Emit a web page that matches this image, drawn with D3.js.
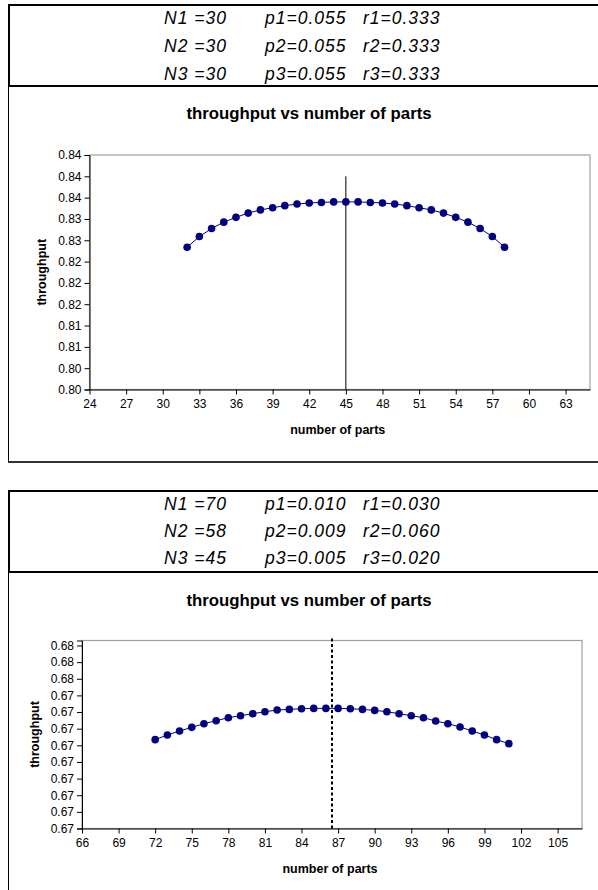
<!DOCTYPE html>
<html lang="en">
<head>
    <meta charset="UTF-8">
    <title>throughput vs number of parts</title>
    <script src="https://d3js.org/d3.v7.min.js"></script>
    <style>
        body { margin: 0; background: #fff; font-family: "Liberation Sans", Arial, sans-serif; }
        svg { display: block; }
        .hdr { font-style: italic; font-size: 17.5px; letter-spacing: 1px; }
        .title { font-weight: bold; font-size: 16.8px; }
        .axis-title { font-weight: bold; font-size: 12.5px; }
    </style>
</head>
<body>
<div id="chart"></div>
<script>
    // ---- data: case 1 ----
    const paramsN1 = ["N1 =30", "N2 =30", "N3 =30"];
    const paramsP1 = ["p1=0.055", "p2=0.055", "p3=0.055"];
    const paramsR1 = ["r1=0.333", "r2=0.333", "r3=0.333"];
    const parts1 = [32, 33, 34, 35, 36, 37, 38, 39, 40, 41, 42, 43, 44, 45, 46, 47, 48, 49, 50, 51, 52, 53, 54, 55, 56, 57, 58];
    const throughput1 = [0.8267, 0.8287, 0.8302, 0.8314, 0.8323, 0.8331, 0.8337, 0.8341, 0.8345, 0.8348, 0.8350, 0.8351, 0.8352,
        0.8352, 0.8352, 0.8351, 0.8350, 0.8348, 0.8345, 0.8341, 0.8337, 0.8331, 0.8323, 0.8314, 0.8302, 0.8287, 0.8267];
    const xDomain1 = [24, 65];
    const xTicks1 = [24, 27, 30, 33, 36, 39, 42, 45, 48, 51, 54, 57, 60, 63];
    const yDomain1 = [0.800, 0.844];
    const yTicks1 = [0.800, 0.804, 0.808, 0.812, 0.816, 0.820, 0.824, 0.828, 0.832, 0.836, 0.840, 0.844];
    const yTickLabels1 = ["0.80", "0.80", "0.81", "0.81", "0.82", "0.82", "0.82", "0.83", "0.83", "0.84", "0.84", "0.84"];
    const markerX1 = [45, 45];
    const markerY1 = [0.800, 0.840];

    // ---- data: case 2 ----
    const paramsN2 = ["N1 =70", "N2 =58", "N3 =45"];
    const paramsP2 = ["p1=0.010", "p2=0.009", "p3=0.005"];
    const paramsR2 = ["r1=0.030", "r2=0.060", "r3=0.020"];
    const parts2 = [72, 73, 74, 75, 76, 77, 78, 79, 80, 81, 82, 83, 84, 85, 86, 87, 88, 89, 90, 91, 92, 93, 94, 95, 96, 97, 98, 99, 100, 101];
    const throughput2 = [0.674634, 0.674662, 0.674686, 0.674708, 0.674730, 0.674748, 0.674766, 0.674778, 0.674790, 0.674802,
        0.674812, 0.674816, 0.674820, 0.674822, 0.674822, 0.674822, 0.674820, 0.674816, 0.674810, 0.674802,
        0.674790, 0.674778, 0.674766, 0.674746, 0.674730, 0.674710, 0.674686, 0.674662, 0.674634, 0.674610];
    const xDomain2 = [66, 107];
    const xTicks2 = [66, 69, 72, 75, 78, 81, 84, 87, 90, 93, 96, 99, 102, 105];
    const yDomain2 = [0.6741, 0.67523];
    const yTicks2 = [0.6741, 0.6742, 0.6743, 0.6744, 0.6745, 0.6746, 0.6747, 0.6748, 0.6749, 0.6750, 0.6751, 0.6752];
    const yTickLabels2 = ["0.67", "0.67", "0.67", "0.67", "0.67", "0.67", "0.67", "0.67", "0.67", "0.68", "0.68", "0.68"];
    const markerX2 = [86.5, 86.5];
    const markerY2 = [0.6741, 0.67525];

    const W = 598, H = 890;
    const svg = d3.select("#chart").append("svg")
        .attr("width", W)
        .attr("height", H);

    // axis text: d3 puts its own font on the group, override it on the labels
    function styleAxis(a) {
        a.select(".domain").attr("stroke", "#000");
        a.selectAll(".tick line").attr("stroke", "#000");
        a.selectAll(".tick text")
            .style("font-family", "'Liberation Sans', Arial, sans-serif")
            .style("font-size", "12px")
            .attr("fill", "#000");
    }

    // one block = parameter box + chart box
    function drawPanel(opt) {
        const g = svg.append("g");

        // chart frame (thin left border, header line on top)
        g.append("line")
            .attr("x1", 8.5).attr("x2", 8.5)
            .attr("y1", opt.hdrBottom).attr("y2", opt.boxBottom)
            .attr("stroke", "#000").attr("stroke-width", 1);
        if (opt.boxBottom < H) {
            g.append("line")
                .attr("x1", 8).attr("x2", W)
                .attr("y1", opt.boxBottom).attr("y2", opt.boxBottom)
                .attr("stroke", "#333").attr("stroke-width", 2);
        }

        // parameter box
        g.append("rect")
            .attr("x", 9).attr("y", opt.hdrTop)
            .attr("width", W + 10).attr("height", opt.hdrBottom - opt.hdrTop)
            .attr("fill", "none").attr("stroke", "#000").attr("stroke-width", 2);

        const cols = [opt.n, opt.p, opt.r];
        const colX = [164, 265, 363];
        cols.forEach((col, ci) => {
            g.selectAll(null).data(col).enter().append("text")
                .attr("class", "hdr")
                .attr("x", colX[ci])
                .attr("y", (d, i) => opt.hdrTop + 19 + i * opt.rowStep)
                .text(d => d);
        });

        // title
        g.append("text")
            .attr("class", "title")
            .attr("x", 309).attr("y", opt.titleY)
            .attr("text-anchor", "middle")
            .text("throughput vs number of parts");

        const p = opt.plot;
        const x = d3.scaleLinear().domain(opt.xDomain).range([p.left, p.right]);
        const y = d3.scaleLinear().domain(opt.yDomain).range([p.bottom, p.top]);

        // plot area border (grey top/right)
        g.append("rect")
            .attr("x", p.left).attr("y", p.top)
            .attr("width", p.right - p.left).attr("height", p.bottom - p.top)
            .attr("fill", "none").attr("stroke", "#a0a0a0").attr("stroke-width", 1.2);

        // axes
        const yAxis = d3.axisLeft(y)
            .tickValues(opt.yTicks)
            .tickSize(5)
            .tickPadding(3)
            .tickFormat((d, i) => opt.yLabels[i]);
        g.append("g")
            .attr("transform", `translate(${p.left},0)`)
            .call(yAxis)
            .call(styleAxis);

        const xAxis = d3.axisBottom(x)
            .tickValues(opt.xTicks)
            .tickSize(5)
            .tickSizeOuter(0)
            .tickPadding(5)
            .tickFormat(d3.format("d"));
        g.append("g")
            .attr("transform", `translate(0,${p.bottom})`)
            .call(xAxis)
            .call(styleAxis);

        // axis titles
        g.append("text")
            .attr("class", "axis-title")
            .attr("text-anchor", "middle")
            .attr("transform", `translate(${opt.yTitleX},${(p.top + p.bottom) / 2}) rotate(-90)`)
            .text("throughput");
        g.append("text")
            .attr("class", "axis-title")
            .attr("text-anchor", "middle")
            .attr("x", (p.left + p.right) / 2 - 2)
            .attr("y", p.bottom + 44)
            .text("number of parts");

        // vertical marker line
        const vl = g.append("line")
            .attr("x1", x(opt.markerX[0])).attr("x2", x(opt.markerX[1]))
            .attr("y1", y(opt.markerY[0])).attr("y2", y(opt.markerY[1]))
            .attr("stroke", "#000");
        if (opt.dotted) {
            vl.attr("stroke-width", 2).attr("stroke-dasharray", "3,2.5");
        } else {
            vl.attr("stroke-width", 1);
        }

        // series
        const pts = opt.xs.map((v, i) => [v, opt.ys[i]]);
        g.append("path")
            .datum(pts)
            .attr("fill", "none")
            .attr("stroke", "#000080")
            .attr("stroke-width", 1)
            .attr("d", d3.line().x(d => x(d[0])).y(d => y(d[1])));
        g.selectAll(null).data(pts).enter().append("circle")
            .attr("cx", d => x(d[0]))
            .attr("cy", d => y(d[1]))
            .attr("r", 3.8)
            .attr("fill", "#000080");
    }

    drawPanel({
        hdrTop: 5, hdrBottom: 86, rowStep: 28, boxBottom: 462, titleY: 119,
        n: paramsN1, p: paramsP1, r: paramsR1,
        plot: { left: 89.5, right: 590, top: 155, bottom: 389.5 },
        xDomain: xDomain1, xTicks: xTicks1,
        yDomain: yDomain1, yTicks: yTicks1, yLabels: yTickLabels1,
        yTitleX: 46,
        markerX: markerX1, markerY: markerY1, dotted: false,
        xs: parts1, ys: throughput1
    });

    drawPanel({
        hdrTop: 491, hdrBottom: 572, rowStep: 27, boxBottom: H + 10, titleY: 606,
        n: paramsN2, p: paramsP2, r: paramsR2,
        plot: { left: 82, right: 582, top: 640.5, bottom: 828.5 },
        xDomain: xDomain2, xTicks: xTicks2,
        yDomain: yDomain2, yTicks: yTicks2, yLabels: yTickLabels2,
        yTitleX: 39,
        markerX: markerX2, markerY: markerY2, dotted: true,
        xs: parts2, ys: throughput2
    });
</script>
</body>
</html>
